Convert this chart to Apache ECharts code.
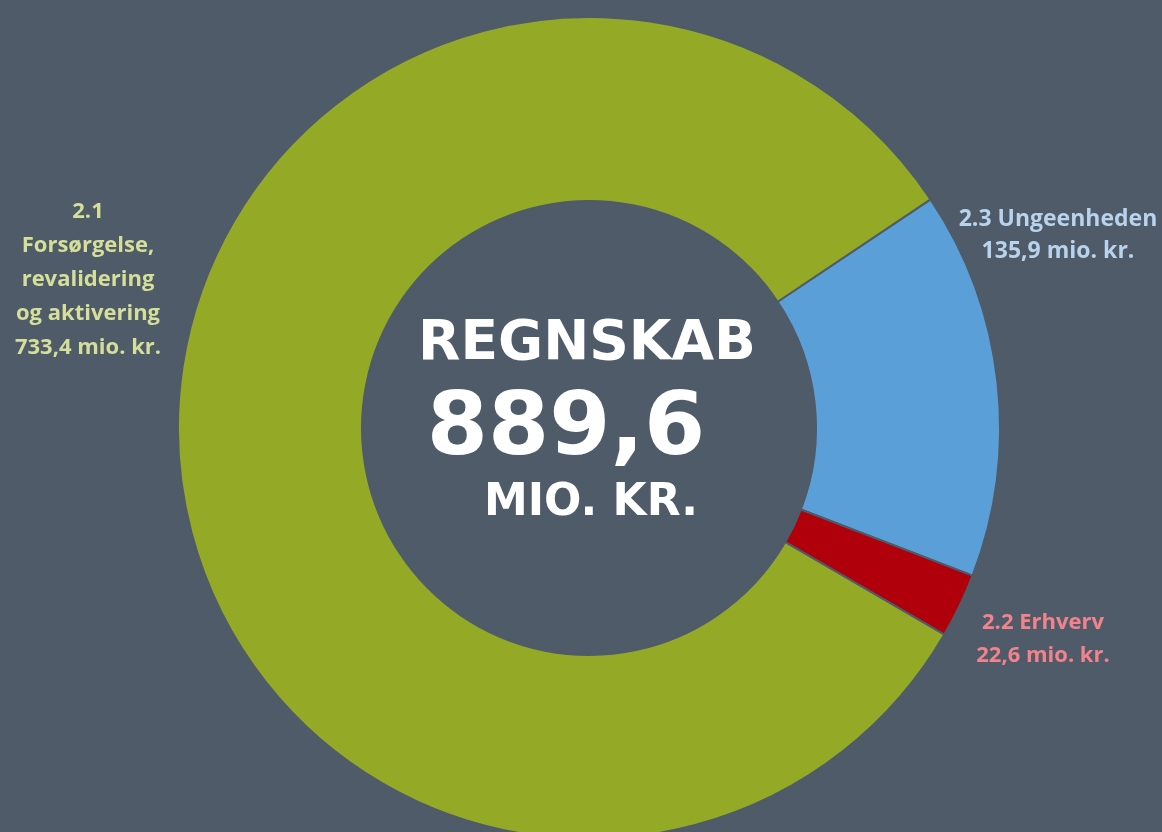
<!DOCTYPE html>
<html>
<head>
<meta charset="utf-8">
<script src="https://cdn.jsdelivr.net/npm/echarts@6/dist/echarts.min.js"></script>
<style>
  html, body { margin: 0; padding: 0; background: #4f5b69; }
  #chart { width: 1162px; height: 832px; }
</style>
</head>
<body>
<div id="chart"></div>
<script>
// clockwise from the top-right edge of the green slice
const names = ['2.3 Ungeenheden', '2.2 Erhverv', '2.1\nForsørgelse,\nrevalidering\nog aktivering']
const values = [135.9, 22.6, 733.4]
const colors = ['#5a9fd8', '#b0000c', '#94aa27']
const labelColors = ['#b9d3ec', '#f2838c', '#d5df9a']
const totalText = ['REGNSKAB', '889,6', 'MIO. KR.']

// where each slice's label sits (Excel-style, off to the side)
const labelSpots = [
  { x: 1058, y: 235, lineHeight: 32, fontSize: 23 },
  { x: 1043, y: 639, lineHeight: 33, fontSize: 22 },
  { x: 88, y: 280, lineHeight: 34, fontSize: 22 }
]

const fmt = v => v.toFixed(1).replace('.', ',') + ' mio. kr.'

const chart = echarts.init(document.getElementById('chart'))

const seriesData = values.map((v, i) => ({
  name: names[i],
  value: v,
  itemStyle: { color: colors[i] },
  label: {
    color: labelColors[i],
    fontSize: labelSpots[i].fontSize,
    lineHeight: labelSpots[i].lineHeight
  }
}))

const option = {
  backgroundColor: '#4f5b69',
  animation: false,
  series: [
    {
      type: 'pie',
      center: [589, 428],
      radius: [227, 411],
      startAngle: 33.8,
      clockwise: true,
      avoidLabelOverlap: false,
      silent: true,
      data: seriesData,
      itemStyle: {
        borderColor: '#4f5b69',
        borderWidth: 2
      },
      label: {
        show: true,
        fontFamily: 'Open Sans',
        fontWeight: 'bold',
        align: 'center',
        formatter: p => p.name + '\n' + fmt(p.value)
      },
      labelLine: { show: false },
      labelLayout: p => ({
        x: labelSpots[p.dataIndex].x,
        y: labelSpots[p.dataIndex].y,
        align: 'center',
        verticalAlign: 'middle'
      })
    }
  ],
  graphic: [
    {
      type: 'text',
      x: 587, y: 345,
      style: {
        text: totalText[0],
        fill: '#ffffff',
        font: 'bold 55px "DejaVu Sans"',
        align: 'center',
        verticalAlign: 'middle'
      }
    },
    {
      type: 'text',
      x: 566, y: 431,
      style: {
        text: totalText[1],
        fill: '#ffffff',
        font: 'bold 88px "DejaVu Sans"',
        align: 'center',
        verticalAlign: 'middle'
      }
    },
    {
      type: 'text',
      x: 591, y: 504,
      style: {
        text: totalText[2],
        fill: '#ffffff',
        font: 'bold 44px "DejaVu Sans"',
        align: 'center',
        verticalAlign: 'middle'
      }
    }
  ]
}

chart.setOption(option)
</script>
</body>
</html>
